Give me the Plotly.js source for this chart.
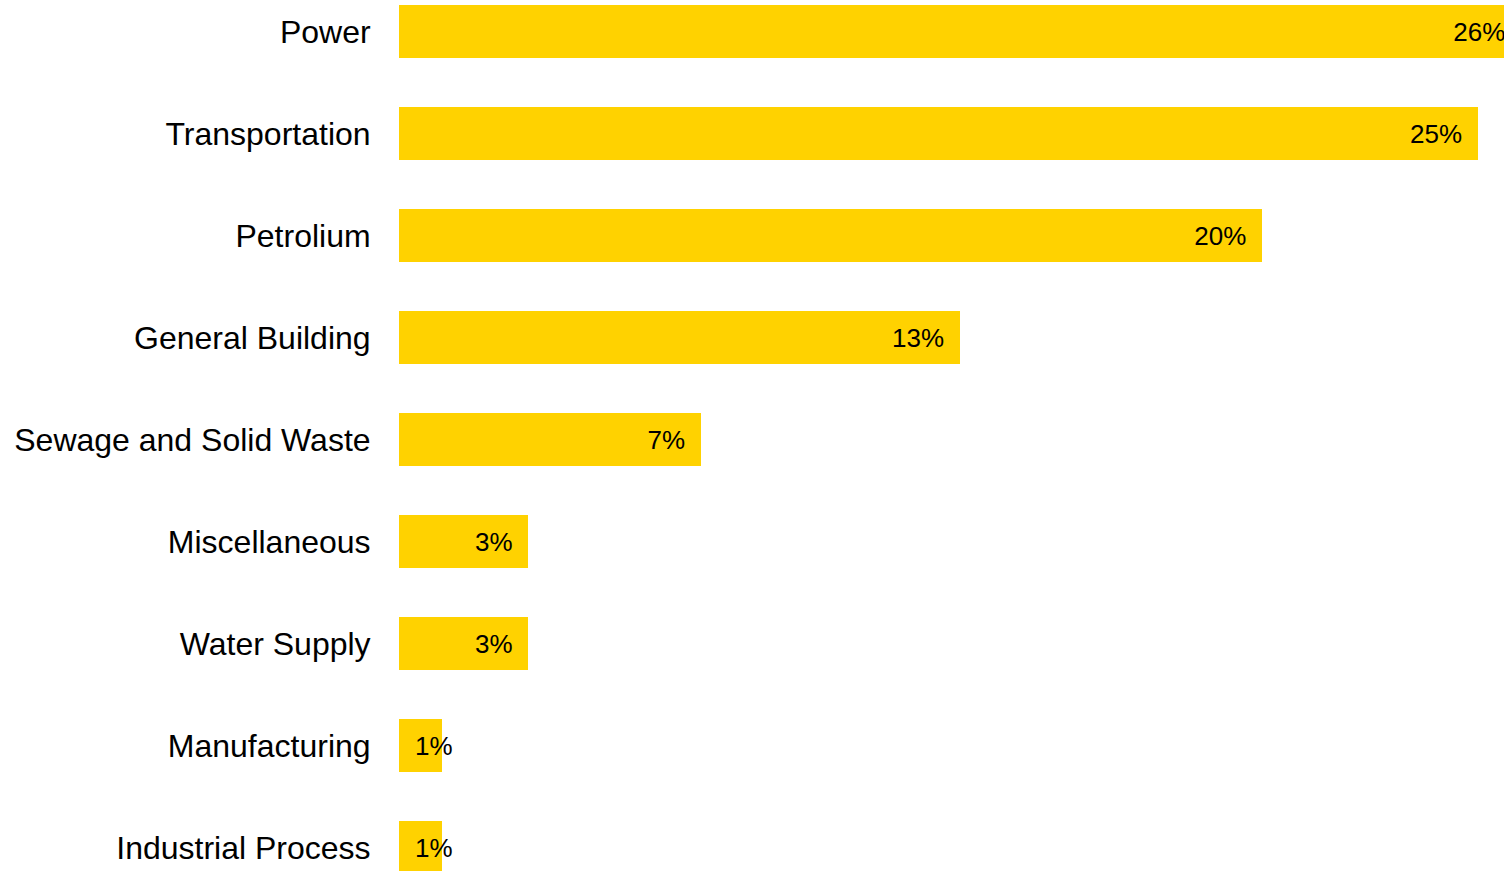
<!DOCTYPE html>
<html>
<head>
<meta charset="utf-8">
<script src="https://cdn.plot.ly/plotly-3.0.1.min.js"></script>
<style>html,body{margin:0;padding:0;background:#fff;}#chart{width:1504px;height:871px;}</style>
</head>
<body>
<div id="chart"></div>
<script>
var categories = ["Power", "Transportation", "Petrolium", "General Building", "Sewage and Solid Waste", "Miscellaneous", "Water Supply", "Manufacturing", "Industrial Process"];
var shares = [26, 25, 20, 13, 7, 3, 3, 1, 1];
var labels = ["26%", "25%", "20%", "13%", "7%", "3%", "3%", "1%", "1%"];

var pad = 0.37; // ~16px in data units
var textX = shares.map(function(v){ return v < 2 ? pad : v - pad; });
var textPos = shares.map(function(v){ return v < 2 ? "middle right" : "middle left"; });
var textY = categories.map(function(c, i){ return i; });

var bars = {
  type: "bar",
  orientation: "h",
  x: shares,
  y: categories,
  width: 0.52,
  marker: {color: "#FFD200", line: {width: 0}},
  hoverinfo: "skip"
};
var txt = {
  type: "scatter",
  mode: "text",
  x: textX,
  y: textY,
  yaxis: "y2",
  text: labels,
  textposition: textPos,
  textfont: {family: "Liberation Sans, Arial, sans-serif", size: 26, color: "#000"},
  cliponaxis: true,
  hoverinfo: "skip"
};

var yTop = -0.307, yBot = 8.232, shift = 0.028;

var layout = {
  width: 1504,
  height: 871,
  margin: {l: 399, r: 0, t: 0, b: 0, pad: 0},
  paper_bgcolor: "#fff",
  plot_bgcolor: "#fff",
  showlegend: false,
  bargap: 0,
  xaxis: {range: [0, 25.6], showgrid: false, zeroline: false, showline: false, showticklabels: false, ticks: ""},
  yaxis: {
    type: "category",
    categoryorder: "array",
    categoryarray: categories,
    range: [yBot, yTop],
    showgrid: false, zeroline: false, showline: false,
    ticks: "outside", ticklen: 21, tickcolor: "rgba(0,0,0,0)",
    tickfont: {family: "Liberation Sans, Arial, sans-serif", size: 32, color: "#000"}
  },
  yaxis2: {
    type: "linear",
    overlaying: "y",
    range: [yBot - shift, yTop - shift],
    showgrid: false, zeroline: false, showline: false, showticklabels: false, ticks: ""
  }
};

Plotly.newPlot("chart", [bars, txt], layout, {displayModeBar: false, staticPlot: true});
</script>
</body>
</html>
